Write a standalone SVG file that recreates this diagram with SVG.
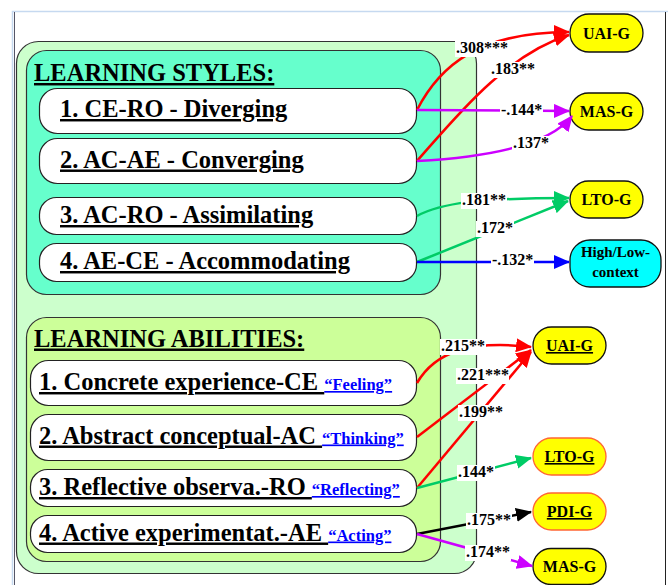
<svg xmlns="http://www.w3.org/2000/svg" width="668" height="585" viewBox="0 0 668 585">
<style>
.panel{stroke:#333;stroke-width:1.2}
.node{fill:#fff;stroke:#222;stroke-width:1.2}
.t{font-family:"Liberation Serif","Times New Roman",serif;font-weight:bold;fill:#000}
.big{font-size:24.5px}
.u{text-decoration:underline;text-decoration-thickness:2.5px}
.q{font-size:16.5px;fill:#0000ff;text-decoration:underline;text-decoration-thickness:2.5px}
.pill{fill:#ffff00;stroke:#111;stroke-width:1.3}
.pillo{fill:#ffff00;stroke:#ff6633;stroke-width:1.3}
.nt{font-size:16px;text-anchor:middle}
.lab{font-size:16px}
.lb{fill:#fff}
.e{fill:none;stroke-width:2.5}
</style>
<defs>
<marker id="aR" markerUnits="userSpaceOnUse" markerWidth="16" markerHeight="14" refX="15" refY="7" orient="auto"><path d="M0,0 L16,7 L0,14 z" fill="#ff0000"/></marker>
<marker id="aM" markerUnits="userSpaceOnUse" markerWidth="16" markerHeight="14" refX="15" refY="7" orient="auto"><path d="M0,0 L16,7 L0,14 z" fill="#cc00ff"/></marker>
<marker id="aG" markerUnits="userSpaceOnUse" markerWidth="16" markerHeight="14" refX="15" refY="7" orient="auto"><path d="M0,0 L16,7 L0,14 z" fill="#00cc66"/></marker>
<marker id="aB" markerUnits="userSpaceOnUse" markerWidth="16" markerHeight="14" refX="15" refY="7" orient="auto"><path d="M0,0 L16,7 L0,14 z" fill="#0000ff"/></marker>
<marker id="aK" markerUnits="userSpaceOnUse" markerWidth="16" markerHeight="14" refX="15" refY="7" orient="auto"><path d="M0,0 L16,7 L0,14 z" fill="#000"/></marker>
</defs>
<rect x="0" y="0" width="668" height="585" fill="#fff"/>
<rect x="12.5" y="11.5" width="670" height="600" fill="#fff" stroke="#c6d9f0" stroke-width="1.5"/>
<line x1="14.5" y1="12" x2="14.5" y2="585" stroke="#556" stroke-width="1"/>
<line x1="665.5" y1="12" x2="665.5" y2="585" stroke="#222" stroke-width="1"/>

<g id="outer-panel">
<rect class="panel" x="16.5" y="41.5" width="460" height="532" rx="22" fill="#ccffcc"/>
</g>
<g id="styles-panel">
<rect class="panel" x="26.5" y="50.5" width="414" height="244" rx="20" fill="#66ffcc"/>
<text class="t big u" x="34" y="81">LEARNING STYLES:</text>
</g>
<g id="abilities-panel">
<rect class="panel" x="26.5" y="317.5" width="414" height="244" rx="20" fill="#ccff99"/>
<text class="t big u" x="34" y="346.5">LEARNING ABILITIES:</text>
</g>

<g id="ls1"><rect class="node" x="39.5" y="88.5" width="377" height="45" rx="18"/><text class="t big u" x="60" y="117">1. CE-RO - Diverging</text></g>
<g id="ls2"><rect class="node" x="39.5" y="138.5" width="377" height="45" rx="18"/><text class="t big u" x="60" y="167.5">2. AC-AE - Converging</text></g>
<g id="ls3"><rect class="node" x="39.5" y="197.5" width="377" height="37" rx="17"/><text class="t big u" x="60" y="223">3. AC-RO - Assimilating</text></g>
<g id="ls4"><rect class="node" x="39.5" y="243.5" width="377" height="38" rx="17"/><text class="t big u" x="60" y="269">4. AE-CE - Accommodating</text></g>

<g id="la1"><rect class="node" x="30.5" y="360.5" width="386" height="45" rx="18"/><text class="t big" x="39" y="390"><tspan class="u">1. Concrete experience-CE </tspan><tspan class="q">“Feeling”</tspan></text></g>
<g id="la2"><rect class="node" x="30.5" y="414.5" width="386" height="46" rx="18"/><text class="t big" x="39" y="443.5"><tspan class="u">2. Abstract conceptual-AC </tspan><tspan class="q">“Thinking”</tspan></text></g>
<g id="la3"><rect class="node" x="30.5" y="469.5" width="386" height="37" rx="17"/><text class="t big" x="39" y="495"><tspan class="u">3. Reflective observa.-RO </tspan><tspan class="q">“Reflecting”</tspan></text></g>
<g id="la4"><rect class="node" x="30.5" y="515.5" width="386" height="37" rx="17"/><text class="t big" x="39" y="540.5"><tspan class="u">4. Active experimentat.-AE </tspan><tspan class="q">“Acting”</tspan></text></g>

<g id="uai1"><rect class="pill" x="570" y="14" width="73" height="38" rx="19"/><text class="t nt" x="606.5" y="38.5">UAI-G</text></g>
<g id="mas1"><rect class="pill" x="570" y="93" width="73" height="37" rx="18.5"/><text class="t nt" x="606.5" y="117">MAS-G</text></g>
<g id="lto1"><rect class="pill" x="570" y="181" width="73" height="37" rx="18.5"/><text class="t nt" x="606.5" y="205">LTO-G</text></g>
<g id="hlc"><rect x="570" y="240" width="91" height="47" rx="20" fill="#00ffff" stroke="#111" stroke-width="1.3"/><text class="t nt" x="615.5" y="257" style="font-size:15px">High/Low-</text><text class="t nt" x="615.5" y="277" style="font-size:15px">context</text></g>
<g id="uai2"><rect class="pill" x="533" y="327" width="73" height="37" rx="18.5"/><text class="t nt u" x="569.5" y="351" style="text-decoration-thickness:1.5px">UAI-G</text></g>
<g id="lto2"><rect class="pillo" x="533" y="438" width="73" height="37" rx="18.5"/><text class="t nt u" x="569.5" y="462" style="text-decoration-thickness:1.5px">LTO-G</text></g>
<g id="pdi"><rect class="pillo" x="533" y="493" width="73" height="37" rx="18.5"/><text class="t nt u" x="569.5" y="517" style="text-decoration-thickness:1.5px">PDI-G</text></g>
<g id="mas2"><rect class="pill" x="533" y="548.5" width="73" height="36" rx="18"/><text class="t nt" x="569.5" y="572">MAS-G</text></g>

<g id="connectors">
<path class="e" stroke="#ff0000" marker-end="url(#aR)" d="M417,110 C440,65 480,32 569,32"/>
<path class="e" stroke="#ff0000" marker-end="url(#aR)" d="M417,161 C455,118 505,55 569,35"/>
<path class="e" stroke="#cc00ff" marker-end="url(#aM)" d="M417,110 L569,111"/>
<path class="e" stroke="#cc00ff" marker-end="url(#aM)" d="M417,161 C490,157 550,145 572,116"/>
<path class="e" stroke="#00cc66" marker-end="url(#aG)" d="M417,216 C440,203 480,198 569,198"/>
<path class="e" stroke="#00cc66" marker-end="url(#aG)" d="M417,262 L568,201"/>
<path class="e" stroke="#0000ff" marker-end="url(#aB)" d="M417,262 L569,262"/>
<path class="e" stroke="#ff0000" marker-end="url(#aR)" d="M417,383 C435,352 470,340 531,347"/>
<path class="e" stroke="#ff0000" marker-end="url(#aR)" d="M417,437 L531,350"/>
<path class="e" stroke="#ff0000" marker-end="url(#aR)" d="M417,488 L531,352"/>
<path class="e" stroke="#00cc66" marker-end="url(#aG)" d="M417,488 L531,458"/>
<path class="e" stroke="#000" marker-end="url(#aK)" d="M417,534 L531,512"/>
<path class="e" stroke="#cc00ff" marker-end="url(#aM)" d="M417,534 L532,566"/>

<rect class="lb" x="455" y="41" width="53" height="16"/><text class="t lab" x="456" y="53">.308***</text>
<rect class="lb" x="490" y="62" width="46" height="16"/><text class="t lab" x="491" y="74">.183**</text>
<rect class="lb" x="500" y="103" width="43" height="16"/><text class="t lab" x="501" y="115">-.144*</text>
<rect class="lb" x="512" y="136" width="38" height="16"/><text class="t lab" x="513" y="148">.137*</text>
<rect class="lb" x="461" y="193" width="46" height="16"/><text class="t lab" x="462" y="205">.181**</text>
<rect class="lb" x="476" y="221" width="38" height="16"/><text class="t lab" x="477" y="233">.172*</text>
<rect class="lb" x="491" y="253" width="43" height="16"/><text class="t lab" x="492" y="265">-.132*</text>
<rect class="lb" x="440" y="339" width="46" height="16"/><text class="t lab" x="441" y="351">.215**</text>
<rect class="lb" x="456" y="368" width="53" height="16"/><text class="t lab" x="457" y="380">.221***</text>
<rect class="lb" x="458" y="405" width="46" height="16"/><text class="t lab" x="459" y="417">.199**</text>
<rect class="lb" x="457" y="465" width="38" height="16"/><text class="t lab" x="458" y="477">.144*</text>
<rect class="lb" x="466" y="513" width="46" height="16"/><text class="t lab" x="467" y="525">.175**</text>
<rect class="lb" x="465" y="545" width="46" height="16"/><text class="t lab" x="466" y="557">.174**</text>
</g>
</svg>
